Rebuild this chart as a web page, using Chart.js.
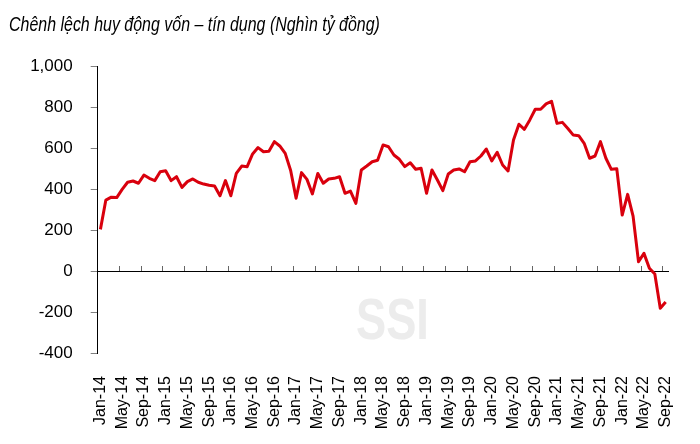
<!DOCTYPE html>
<html>
<head>
<meta charset="utf-8">
<script src="https://cdn.jsdelivr.net/npm/chart.js@4.4.0/dist/chart.umd.min.js"></script>
<style>
  body { margin: 0; background: #fff; }
  #wrap { position: relative; width: 700px; height: 444px; }
  #title {
    position: absolute; left: 9px; top: 13px; white-space: nowrap;
    font: italic 21px "Liberation Sans", Arial, sans-serif;
    line-height: 1; color: #000;
    transform: scaleX(0.76); transform-origin: left top;
  }
  #mark {
    position: absolute; left: 356px; top: 290px;
    font: bold 58px "Liberation Sans", Arial, sans-serif;
    line-height: 1; color: #ececec;
    transform: scaleX(0.78); transform-origin: left top;
  }
</style>
</head>
<body>
<div id="wrap">
  <div id="mark">SSI</div>
  <div id="title">Chênh lệch huy động vốn – tín dụng (Nghìn tỷ đồng)</div>
  <canvas id="myChart"></canvas>
</div>
<script>
// category data
const monthNames = ['Jan', 'Feb', 'Mar', 'Apr', 'May', 'Jun', 'Jul', 'Aug', 'Sep', 'Oct', 'Nov', 'Dec'];
const firstYear = 2014;

// gap between deposits and credit, thousand billion VND, Jan-14 .. Sep-22
const gap = [
  203, 346, 360, 358, 398, 433, 439, 428, 468, 452, 441, 484,
  489, 441, 460, 408, 436, 449, 433, 424, 418, 415, 367, 441,
  367, 476, 512, 509, 571, 602, 582, 584, 631, 610, 574, 490,
  355, 480, 447, 376, 476, 428, 449, 452, 460, 379, 390, 330,
  493, 512, 533, 540, 615, 606, 566, 545, 509, 528, 496, 501,
  379, 493, 444, 392, 473, 493, 498, 484, 533, 537, 561, 595,
  537, 579, 517, 488, 639, 716, 691, 737, 789, 789, 815, 828,
  720, 725, 695, 663, 660, 623, 550, 561, 631, 550, 496, 499,
  273, 374, 268, 45, 86, 13, -15, -182, -151
];

const yTicks = [-400, -200, 0, 200, 400, 600, 800, 1000];
const labelEvery = 4;

const labels = [];
for (let i = 0; i < gap.length; i++) {
  const yr = firstYear + Math.floor(i / 12);
  labels.push(monthNames[i % 12] + '-' + String(yr).slice(2));
}

const font = '"Liberation Sans", Arial, sans-serif';

const ctx = document.getElementById('myChart').getContext('2d');

new Chart(ctx, {
  type: 'line',
  data: {
    labels: labels,
    datasets: [{
      label: 'Chênh lệch',
      data: gap,
      borderColor: '#d9000d',
      backgroundColor: '#d9000d',
      borderWidth: 3,
      pointRadius: 0,
      tension: 0,
      borderJoinStyle: 'round'
    }]
  },
  options: {
    responsive: true,
    maintainAspectRatio: false,
    animation: false,
    layout: { padding: { left: 9, right: 23, top: 66, bottom: 0 } },
    plugins: {
      legend: { display: false },
      tooltip: { enabled: false },
      title: { display: false }
    },
    scales: {
      x: {
        type: 'category',
        position: 'bottom',
        offset: true,
        border: { display: false },
        grid: { display: false },
        ticks: {
          autoSkip: false,
          minRotation: 90,
          maxRotation: 90,
          padding: 15,
          color: '#000',
          font: { family: font, size: 16 },
          callback: function (v, i) {
            return i % labelEvery === 0 ? this.getLabelForValue(v) : null;
          }
        },
        afterFit: s => { s.height = 91; }
      },
      x0: {
        type: 'category',
        axis: 'x',
        position: { y: 0 },
        offset: true,
        ticks: { display: false },
        border: { display: true, color: '#000', width: 1 },
        grid: {
          display: true,
          offset: true,
          drawOnChartArea: false,
          drawTicks: true,
          tickLength: -6,
          tickWidth: 1,
          tickColor: c => (c.index % labelEvery === 0 ? '#666' : 'rgba(0,0,0,0)')
        }
      },
      y: {
        min: yTicks[0],
        max: yTicks[yTicks.length - 1],
        afterBuildTicks: s => { s.ticks = yTicks.map(v => ({ value: v })); },
        border: { display: true, color: '#000', width: 1 },
        grid: {
          drawOnChartArea: false,
          tickLength: 7,
          tickColor: '#808080'
        },
        ticks: {
          padding: 18,
          color: '#000',
          font: { family: font, size: 17 },
          callback: v => v.toLocaleString('en-US')
        },
        afterFit: s => { s.width = 88.7; }
      }
    }
  }
});
</script>
</body>
</html>
